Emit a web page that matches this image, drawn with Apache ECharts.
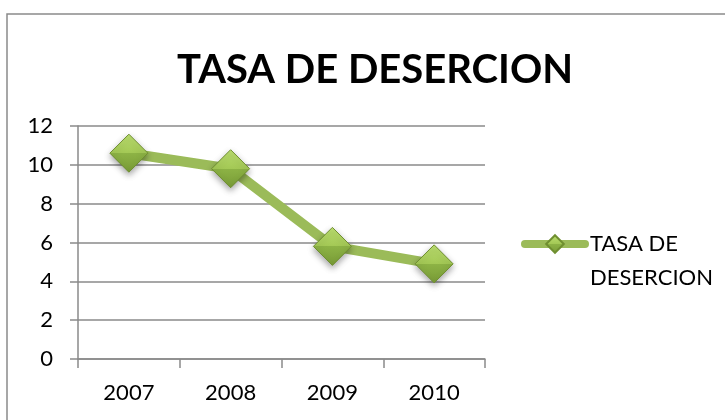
<!DOCTYPE html>
<html><head><meta charset="utf-8">
<script src="https://cdn.jsdelivr.net/npm/echarts@6/dist/echarts.min.js"></script>
<style>html,body{margin:0;padding:0;background:#fff}#c{width:725px;height:420px}</style>
</head><body><div id="c"></div>
<script>
const titleText = 'TASA DE DESERCION';
const seriesName = 'TASA DE DESERCION';
const legendLines = ['TASA DE', 'DESERCION'];
const categories = ['2007', '2008', '2009', '2010'];
const values = [10.6, 9.8, 5.8, 4.9];
const yTicks = [0, 2, 4, 6, 8, 10, 12];

const FONT = 'Lato';
const chart = echarts.init(document.getElementById('c'), null, {renderer: 'canvas'});
const diamondFill = new echarts.graphic.LinearGradient(0, 0, 0, 1, [
  {offset: 0, color: '#bde070'}, {offset: 0.5, color: '#a3c855'},
  {offset: 0.5, color: '#8db345'}, {offset: 1, color: '#789b36'}
]);
chart.setOption({
  animation: false,
  backgroundColor: '#fff',
  graphic: [{
    type: 'rect', shape: {x: 7, y: 14, width: 900, height: 600},
    style: {fill: 'none', stroke: '#8a8a8a', lineWidth: 1.5}, silent: true, z: -1
  }],
  title: {
    text: titleText, left: 370, top: 45, textAlign: 'center',
    textStyle: {fontFamily: FONT, fontWeight: 'bold', fontSize: 40, color: '#000'}
  },
  legend: {
    left: 521, top: 193, orient: 'vertical', padding: 0,
    itemWidth: 60, itemHeight: 22,
    formatter: () => '\n' + legendLines.join('\n'),
    lineStyle: {width: 8, color: '#9bbb59', cap: 'round'},
    textStyle: {fontFamily: FONT, fontSize: 22, color: '#000', lineHeight: 34},
    data: [seriesName]
  },
  grid: {left: 78, right: 240, top: 126, bottom: 61},
  xAxis: {
    type: 'category', data: categories, boundaryGap: true,
    axisLine: {lineStyle: {color: '#8a8a8a', width: 1.5}},
    axisTick: {show: true, length: 9, alignWithLabel: false, lineStyle: {color: '#8a8a8a', width: 1.5}},
    axisLabel: {fontFamily: FONT, fontSize: 22, color: '#000', margin: 23}
  },
  yAxis: {
    type: 'value', min: yTicks[0], max: yTicks[yTicks.length - 1], interval: 2,
    axisLine: {show: true, lineStyle: {color: '#8a8a8a', width: 1.5}},
    axisTick: {show: true, length: 8, lineStyle: {color: '#8a8a8a', width: 1.5}},
    splitLine: {lineStyle: {color: '#8a8a8a', width: 1.5}},
    axisLabel: {fontFamily: FONT, fontSize: 22, color: '#000', margin: 25}
  },
  series: [{
    name: seriesName, type: 'line', data: values,
    symbol: 'diamond', symbolSize: 38,
    lineStyle: {color: '#9bbb59', width: 10, cap: 'round'},
    itemStyle: {color: diamondFill, borderColor: '#6f8f30', borderWidth: 1,
      shadowBlur: 6, shadowColor: 'rgba(0,0,0,0.35)', shadowOffsetY: 3},
    emphasis: {disabled: true}
  }]
});
</script></body></html>
